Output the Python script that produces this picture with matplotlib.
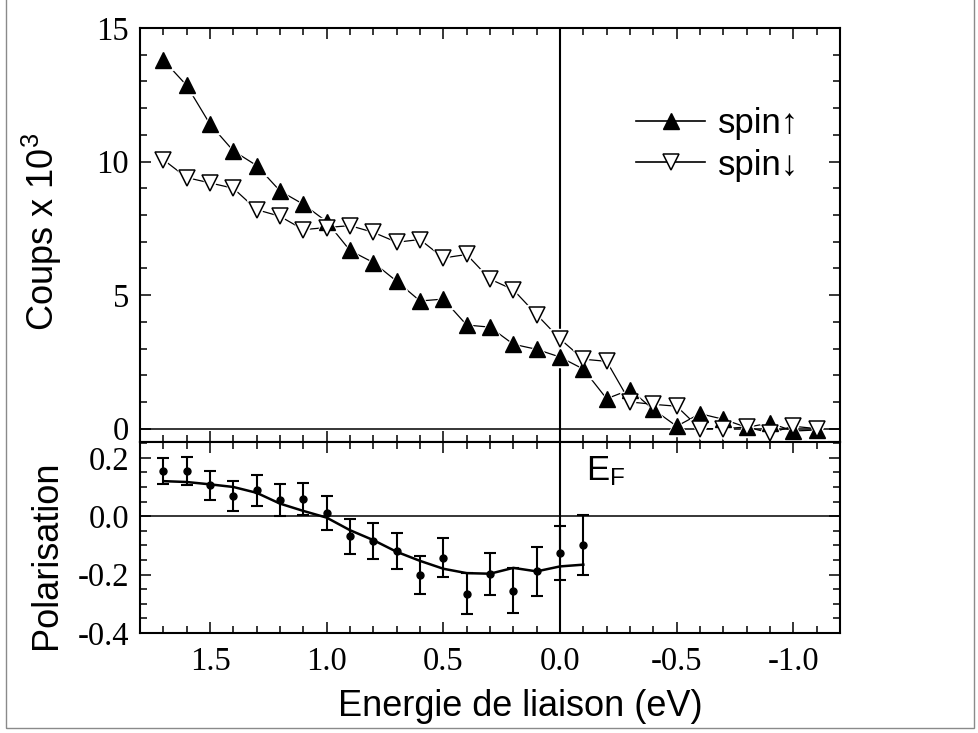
import matplotlib
matplotlib.use('Agg')
import matplotlib.pyplot as plt
from matplotlib.lines import Line2D
from matplotlib.patches import Rectangle
from matplotlib.ticker import MultipleLocator, FormatStrFormatter

SERIF = ['Liberation Serif', 'DejaVu Serif']
SANS = ['Liberation Sans', 'DejaVu Sans']
TICK_FS = 23.5
LABEL_FS = 26

# tick labels are serif, everything else is set to sans explicitly
plt.rcParams['font.family'] = SERIF
plt.rcParams['axes.unicode_minus'] = False
plt.rcParams['mathtext.default'] = 'regular'
plt.rcParams['xtick.labelsize'] = TICK_FS
plt.rcParams['ytick.labelsize'] = TICK_FS

# Binding energy (eV) for the spin-resolved spectra
energy = [1.7, 1.6, 1.5, 1.4, 1.3, 1.2, 1.1, 1.0, 0.9, 0.8, 0.7, 0.6, 0.5, 0.4, 0.3,
          0.2, 0.1, 0.0, -0.1, -0.2, -0.3, -0.4, -0.5, -0.6, -0.7, -0.8, -0.9, -1.0, -1.1]
spin_up = [13.8, 12.85, 11.4, 10.4, 9.85, 8.9, 8.4, 7.75, 6.67, 6.22, 5.52, 4.78, 4.85, 3.88, 3.8,
           3.16, 2.97, 2.68, 2.23, 1.12, 1.46, 0.72, 0.09, 0.56, 0.35, 0.05, 0.21, -0.09, -0.05]
spin_down = [10.07, 9.4, 9.2, 9.0, 8.2, 7.95, 7.45, 7.53, 7.6, 7.35, 6.98, 7.08, 6.39, 6.52, 5.6,
             5.2, 4.27, 3.36, 2.6, 2.52, 1.0, 0.91, 0.84, 0.0, 0.0, 0.06, -0.16, 0.09, 0.0]

# Polarisation with error bars and smoothed curve
pol_energy = [1.7, 1.6, 1.5, 1.4, 1.3, 1.2, 1.1, 1.0, 0.9, 0.8, 0.7, 0.6, 0.5, 0.4, 0.3,
              0.2, 0.1, 0.0, -0.1]
pol = [0.155, 0.155, 0.106, 0.069, 0.089, 0.055, 0.058, 0.011, -0.069, -0.085, -0.119, -0.200,
       -0.142, -0.265, -0.199, -0.256, -0.189, -0.125, -0.098]
pol_err = [0.045, 0.047, 0.049, 0.051, 0.053, 0.056, 0.054, 0.057, 0.059, 0.061, 0.063, 0.065,
           0.067, 0.071, 0.072, 0.077, 0.083, 0.093, 0.103]
pol_fit = [0.120, 0.117, 0.109, 0.100, 0.080, 0.043, 0.018, -0.005, -0.048, -0.082, -0.122,
           -0.153, -0.180, -0.195, -0.197, -0.177, -0.189, -0.172, -0.166]

x_ticks = [1.5, 1.0, 0.5, 0.0, -0.5, -1.0]

fig = plt.figure(figsize=(9.79, 7.33), dpi=100)
W, H = 979, 733
left, right = 140, 840
ax1 = fig.add_axes([left / W, 1 - 442 / H, (right - left) / W, 414 / H])
ax2 = fig.add_axes([left / W, 1 - 633 / H, (right - left) / W, 191 / H], sharex=ax1)


def style_axis(ax):
    for s in ax.spines.values():
        s.set_linewidth(1.5)
    ax.tick_params(which='both', direction='in', top=True, right=True, width=1.1)
    ax.tick_params(axis='y', pad=8)
    ax.tick_params(axis='x', pad=10)
    ax.tick_params(which='major', length=8)
    ax.tick_params(which='minor', length=5)


# Top panel: spin-up / spin-down counts
ax1.set_xlim(1.8, -1.2)
ax1.set_ylim(-0.5, 15)
ax1.xaxis.set_major_locator(MultipleLocator(0.5))
ax1.xaxis.set_minor_locator(MultipleLocator(0.1))
ax1.yaxis.set_major_locator(MultipleLocator(5))
ax1.yaxis.set_minor_locator(MultipleLocator(1))
ax1.axhline(0, color='k', lw=1.1, zorder=1)
ax1.axvline(0, color='k', lw=1.5, zorder=1)

ax1.plot(energy, spin_up, color='k', lw=0.9, zorder=2)
ax1.plot(energy, spin_down, color='k', lw=0.9, zorder=2)
# white halos so the connecting lines stop short of the symbols
ax1.plot(energy, spin_up, ls='none', marker='^', ms=15, color='white', zorder=3)
ax1.plot(energy, spin_down, ls='none', marker='v', ms=15, color='white', zorder=3)
ax1.plot(energy, spin_up, ls='none', marker='^', ms=11.5, mfc='k', mec='k', zorder=4)
ax1.plot(energy, spin_down, ls='none', marker='v', ms=11, mfc='white', mec='k', mew=1.1, zorder=4)

h_up = Line2D([], [], color='k', lw=1.2, marker='^', ms=12, mfc='k', mec='k')
h_down = Line2D([], [], color='k', lw=1.2, marker='v', ms=11, mfc='white', mec='k', mew=1.1)
leg = ax1.legend([h_up, h_down], ['spin\u2191', 'spin\u2193'], loc='upper left',
                 bbox_to_anchor=(0.664, 0.885), frameon=False, numpoints=1,
                 handlelength=2.0, handletextpad=0.35, labelspacing=0.25,
                 prop={'family': SANS, 'size': 25})

ax1.set_ylabel('Coups x 10$^{3}$', family=SANS, fontsize=LABEL_FS)
ax1.yaxis.set_label_coords(-0.108, 0.507)
style_axis(ax1)
ax1.tick_params(axis='x', labelbottom=False)

# Bottom panel: polarisation
ax2.set_ylim(-0.4, 0.254)
ax2.yaxis.set_major_locator(MultipleLocator(0.2))
ax2.yaxis.set_minor_locator(MultipleLocator(0.05))
ax2.yaxis.set_major_formatter(FormatStrFormatter('%.1f'))
ax2.set_xticks(x_ticks)
ax2.xaxis.set_minor_locator(MultipleLocator(0.1))
ax2.xaxis.set_major_formatter(FormatStrFormatter('%.1f'))
ax2.axhline(0, color='k', lw=1.1, zorder=1)
ax2.axvline(0, color='k', lw=1.5, zorder=1)
ax2.errorbar(pol_energy, pol, yerr=pol_err, fmt='o', ms=5, color='k', ecolor='k',
             elinewidth=1.5, capsize=4.5, capthick=1.5, zorder=3)
ax2.plot(pol_energy, pol_fit, color='k', lw=1.8, zorder=2)
ax2.text(-0.11, 0.123, 'E$_{F}$', family=SANS, fontsize=25, ha='left', va='baseline')

ax2.set_ylabel('Polarisation', family=SANS, fontsize=LABEL_FS)
ax2.yaxis.set_label_coords(-0.108, 0.408)
ax2.set_xlabel('Energie de liaison (eV)', family=SANS, fontsize=LABEL_FS)
ax2.xaxis.set_label_coords(0.543, -0.295)
style_axis(ax2)
ax2.set_xlim(1.8, -1.2)

# thin grey frame around the figure
fig.patches.append(Rectangle((6 / W, 5 / H), 968 / W, 1.2, transform=fig.transFigure,
                             fill=False, edgecolor='#8a8a8a', lw=1))

fig.savefig('out.png', dpi=100, facecolor='white')
